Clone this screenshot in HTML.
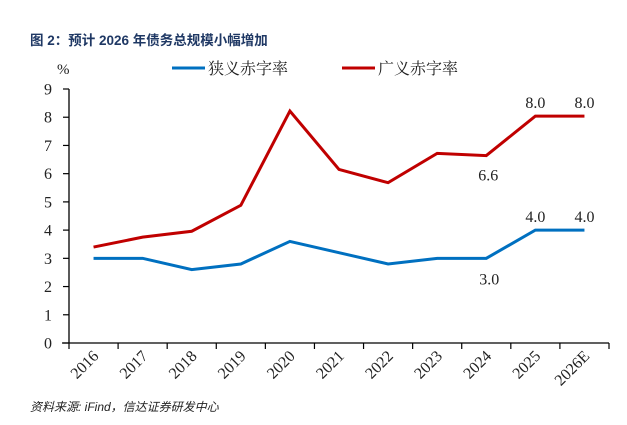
<!DOCTYPE html>
<html><head><meta charset="utf-8"><style>
body{margin:0;background:#fff;width:627px;height:420px;overflow:hidden;font-family:"Liberation Serif","Noto Serif CJK SC",serif}
</style></head><body>
<svg id="chart" width="627" height="420" xmlns="http://www.w3.org/2000/svg">
<text x="30" y="45" font-family="Liberation Sans, Noto Sans CJK SC, sans-serif" font-weight="bold" font-size="13.5" fill="#1f3864">图 2：预计 2026 年债务总规模小幅增加</text>
<text x="57" y="74" font-size="15" fill="#222">%</text>
<g>
<line x1="172" y1="68" x2="205" y2="68" stroke="#0070c0" stroke-width="3"/>
<text x="208" y="74" font-size="16" fill="#222">狭义赤字率</text>
<line x1="342" y1="68" x2="375" y2="68" stroke="#c00000" stroke-width="3"/>
<text x="378" y="74" font-size="16" fill="#222">广义赤字率</text>
</g>
<g id="plot"></g>
<text x="30" y="411" font-family="Liberation Sans, Noto Sans CJK SC, sans-serif" font-style="italic" font-size="12" fill="#222">资料来源: iFind，信达证券研发中心</text>
</svg>
<script>
const categories=["2016","2017","2018","2019","2020","2021","2022","2023","2024","2025","2026E"];
const narrowValues=[3.0,3.0,2.6,2.8,3.6,3.2,2.8,3.0,3.0,4.0,4.0];
const broadValues=[3.4,3.75,3.96,4.88,8.22,6.15,5.68,6.72,6.64,8.04,8.04];
const yTicks=[0,1,2,3,4,5,6,7,8,9];
const ns="http://www.w3.org/2000/svg";
const g=document.getElementById('plot');
const X0=69,X1=609,Y0=343,Y9=89;
const band=(X1-X0)/categories.length;
const xPos=i=>X0+band*(i+0.5);
const yPos=v=>Y0-(v/9)*(Y0-Y9);
function mk(t,a){const e=document.createElementNS(ns,t);for(const k in a)e.setAttribute(k,a[k]);g.appendChild(e);return e;}
let ax=mk('line',{x1:X0,y1:Y9,x2:X0,y2:Y0,stroke:'#000','stroke-width':1.3});


let bx=mk('line',{x1:X0-7,y1:Y0,x2:X1,y2:Y0,stroke:'#000','stroke-width':1.3});


yTicks.forEach(v=>{
 let t=mk('line',{x1:X0-6,y1:yPos(v),x2:X0,y2:yPos(v),stroke:'#000','stroke-width':1.2});
 
 
 let l=mk('text',{x:X0-17,y:yPos(v)+5.5,'text-anchor':'end','font-size':16,fill:'#222'});
 l.textContent=v;
 
 
});
for(let i=0;i<=categories.length;i++){
 let t=mk('line',{x1:X0+band*i,y1:Y0,x2:X0+band*i,y2:Y0+6,stroke:'#000','stroke-width':1.2});
 
 
}
categories.forEach((c,i)=>{
 const x=xPos(i)+6,y=Y0+14;
 let l=mk('text',{x:x,y:y,'text-anchor':'end','font-size':16,fill:'#222',transform:`rotate(-45 ${x} ${y})`});
 l.textContent=c;
 
 
});
function series(vals,color,name){
 let p=mk('polyline',{points:vals.map((v,i)=>xPos(i)+','+yPos(v)).join(' '),fill:'none',stroke:color,'stroke-width':3,'stroke-linejoin':'miter'});
 
 
}
series(narrowValues,'#0070c0','narrow-deficit-line');
series(broadValues,'#c00000','broad-deficit-line');
function label(i,v,dy,dx,name){
 let l=mk('text',{x:xPos(i)+dx,y:yPos(v)+dy,'text-anchor':'middle','font-size':16,fill:'#222'});
 l.textContent=v.toFixed(1);
 
 
}
label(8,broadValues[8],25,2,'broad-label-2024');
label(9,broadValues[9],-8,0,'broad-label-2025');
label(10,broadValues[10],-8,0,'broad-label-2026e');
label(8,narrowValues[8],26,3,'narrow-label-2024');
label(9,narrowValues[9],-8,0,'narrow-label-2025');
label(10,narrowValues[10],-8,0,'narrow-label-2026e');
</script>
</body></html>
